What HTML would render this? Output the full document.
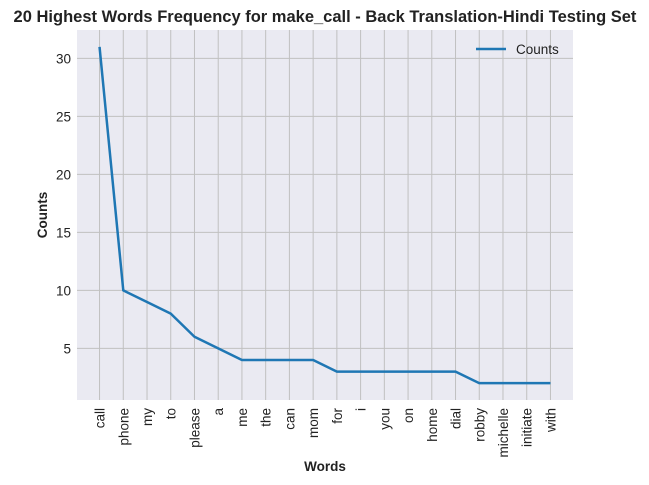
<!DOCTYPE html>
<html><head><meta charset="utf-8"><style>
body{margin:0;background:#fff;}
svg{display:block;font-family:"Liberation Sans",Arial,sans-serif;}
</style></head><body>
<svg id="chart" width="649" height="485" viewBox="0 0 649 485">
<text x="325" y="22" text-anchor="middle" font-size="16.5" font-weight="bold" fill="#222">20 Highest Words Frequency for make_call - Back Translation-Hindi Testing Set</text>
<rect x="77" y="30" width="496" height="370" fill="#eaeaf2"/>
<g id="grid"></g>
<g id="ticks"></g>
<path id="line" fill="none" stroke="#1f77b4" stroke-width="2.5" stroke-linejoin="round"/>
<g>
<line x1="476" y1="49" x2="506" y2="49" stroke="#1f77b4" stroke-width="2.5"/>
<text x="516" y="54" font-size="13.5" fill="#222">Counts</text>
</g>
<text x="325" y="471" text-anchor="middle" font-size="13.5" font-weight="bold" fill="#222">Words</text>
<text transform="translate(47,215) rotate(-90)" text-anchor="middle" font-size="13.5" font-weight="bold" fill="#222">Counts</text>
</svg>
<script>
const words=["call","phone","my","to","please","a","me","the","can","mom","for","i","you","on","home","dial","robby","michelle","initiate","with"];
const counts=[31,10,9,8,6,5,4,4,4,4,3,3,3,3,3,3,2,2,2,2];
const yTicks=[5,10,15,20,25,30];
const NS="http://www.w3.org/2000/svg";
const L=77,R=573,T=30,B=400;
const xMin=-0.95,xMax=words.length-1+0.95,yMin=0.55,yMax=32.45;
const xs=i=>L+(i-xMin)/(xMax-xMin)*(R-L);
const ys=v=>B-(v-yMin)/(yMax-yMin)*(B-T);
function mk(tag,attrs,parent){const e=document.createElementNS(NS,tag);for(const k in attrs)e.setAttribute(k,attrs[k]);parent.appendChild(e);return e;}
const grid=document.getElementById('grid'),ticks=document.getElementById('ticks');
yTicks.forEach(v=>{
 const l=mk('line',{x1:L,x2:R,y1:ys(v),y2:ys(v),stroke:'#c0c0c0','stroke-width':1},grid);
 
 
 const t=mk('text',{x:L-6,y:ys(v)+5,'text-anchor':'end','font-size':13.5,fill:'#222'},ticks);
 t.textContent=v;
 
 
});
words.forEach((w,i)=>{
 const l=mk('line',{x1:xs(i),x2:xs(i),y1:T,y2:B,stroke:'#c0c0c0','stroke-width':1},grid);
 
 
 const t=mk('text',{transform:`translate(${xs(i)+5},${B+8}) rotate(-90)`,'text-anchor':'end','font-size':13.5,fill:'#222'},ticks);
 t.textContent=w;
 
 
});
document.getElementById('line').setAttribute('d',counts.map((c,i)=>(i?'L':'M')+xs(i)+','+ys(c)).join(' '));
</script>
</body></html>
